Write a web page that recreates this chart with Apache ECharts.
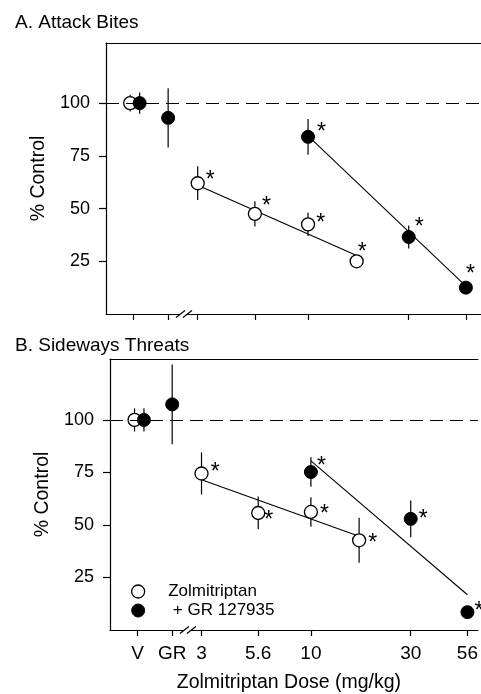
<!DOCTYPE html>
<html><head><meta charset="utf-8">
<script src="https://cdn.jsdelivr.net/npm/echarts@6/dist/echarts.min.js"></script>
<style>html,body{margin:0;padding:0;background:#fff}#c{width:481px;height:694px}</style>
</head><body><div id="c"></div>
<script>
// ---- data ----
const tickLabels = ['V', 'GR', '3', '5.6', '10', '30', '56'];
const yTicks = [25, 50, 75, 100];
const openDoses = ['V', '3', '5.6', '10', '17'];
const filledDoses = ['V', 'GR', '10', '30', '56'];
const openA = [100, 62, 47.5, 42.5, 25];
const openAErr = [4, 8, 6, 5.5, 3];
const filledA = [100, 93, 84, 36.5, 12.5];
const filledAErr = [5, 14, 8.5, 5.5, 1.5];
const openB = [100, 74.5, 55.7, 56.2, 42.7];
const openBErr = [5.5, 10, 7.8, 7, 10.7];
const filledB = [100, 107.4, 75.2, 52.9, 8.5];
const filledBErr = [5.5, 19, 7, 8.7, 1.5];
const openSig = [false, true, true, true, true];
const filledSig = [false, false, true, true, true];
const fitOpenDoses = ['3', '17'];
const fitOpenA = [61, 27.7];
const fitOpenB = [71.5, 44.6];
const fitFilledDoses = ['10', '56'];
const fitFilledA = [84.5, 13.2];
const fitFilledB = [80.5, 16.8];
const controlLevel = 100;
const seriesNames = ['Zolmitriptan', '+ GR 127935'];

// ---- axis mapping (log10 dose, with V and GR placed left of the break) ----
const CAT_POS = { V: 0.171, GR: 0.337 };
function xOf(d, shift) {
  if (d in CAT_POS) return CAT_POS[d] + (d === 'V' ? (shift || 0) : 0);
  return Math.log10(parseFloat(d));
}
const FONT = '"Liberation Sans", Arial, Helvetica, sans-serif';
const PX_PER_DECADE = 211;

function errSeries(idx, doses, vals, errs, shift) {
  return {
    type: 'custom', name: 'err' + idx + '_' + shift, xAxisIndex: idx, yAxisIndex: idx, silent: true, z: 2,
    data: doses.map((d, i) => [xOf(d, shift), vals[i] - errs[i], vals[i] + errs[i]]),
    encode: { x: 0, y: [1, 2] },
    renderItem: (params, api) => {
      const p1 = api.coord([api.value(0), api.value(1)]);
      const p2 = api.coord([api.value(0), api.value(2)]);
      return { type: 'line', shape: { x1: p1[0], y1: p1[1], x2: p2[0], y2: p2[1] },
        style: { stroke: '#000', lineWidth: 1.2 } };
    }
  };
}
function ptSeries(idx, name, doses, vals, sig, filled, shift, offsets) {
  return {
    type: 'scatter', name: name, xAxisIndex: idx, yAxisIndex: idx, symbol: 'circle', symbolSize: 13, z: 4,
    itemStyle: filled ? { color: '#000', borderColor: '#000', borderWidth: 1, opacity: 1 }
                      : { color: '#fff', borderColor: '#000', borderWidth: 1.3, opacity: 1 },
    emphasis: { disabled: true },
    data: doses.map((d, i) => ({
      value: [xOf(d, shift), vals[i]],
      label: { show: sig[i], formatter: '*', position: 'right', distance: 2,
        offset: offsets[i] || [0, -2], color: '#000', fontSize: 23, fontFamily: FONT }
    }))
  };
}
function fitSeries(idx, doses, vals) {
  return {
    type: 'line', xAxisIndex: idx, yAxisIndex: idx, symbol: 'none', silent: true, z: 3,
    lineStyle: { color: '#000', width: 1.1 },
    data: doses.map((d, i) => [xOf(d), vals[i]])
  };
}
function dashSeries(idx) {
  return {
    type: 'line', xAxisIndex: idx, yAxisIndex: idx, data: [], silent: true,
    markLine: { silent: true, symbol: 'none', label: { show: false },
      lineStyle: { type: [13, 7], color: '#000', width: 1.2 },
      data: [{ yAxis: controlLevel }] }
  };
}
const tickPos = tickLabels.map(l => xOf(l));
function labelFor(v) {
  for (let i = 0; i < tickPos.length; i++) if (Math.abs(tickPos[i] - v) < 1e-6) return tickLabels[i];
  return '';
}
function xAxis(idx, withLabels, min, widthPx) {
  return {
    type: 'value', gridIndex: idx, min: min, max: min + widthPx / PX_PER_DECADE,
    axisLine: { show: true, onZero: false, lineStyle: { color: '#000', width: 1.2 } },
    axisTick: { show: true, customValues: tickPos, length: 6, lineStyle: { color: '#000', width: 1.2 } },
    axisLabel: withLabels ? { show: true, customValues: tickPos, formatter: labelFor, color: '#000',
      fontSize: 19, fontFamily: FONT, margin: 14 } : { show: false },
    splitLine: { show: false },
    name: withLabels ? 'Zolmitriptan Dose (mg/kg)' : '', nameLocation: 'middle', nameGap: 43,
    nameTextStyle: { color: '#000', fontSize: 19.5, fontFamily: FONT, padding: [0, 10, 0, 0] }
  };
}
function topAxis(idx, min, widthPx) {
  return {
    type: 'value', gridIndex: idx, position: 'top', min: min, max: min + widthPx / PX_PER_DECADE,
    axisLine: { show: true, onZero: false, lineStyle: { color: '#000', width: 1.2 } },
    axisTick: { show: false }, axisLabel: { show: false }, splitLine: { show: false }
  };
}
function yAxis(idx, max) {
  return {
    type: 'value', gridIndex: idx, min: 0, max: max,
    axisLine: { show: true, lineStyle: { color: '#000', width: 1.2 } },
    axisTick: { show: true, customValues: yTicks, length: 7, lineStyle: { color: '#000', width: 1.2 } },
    axisLabel: { show: true, customValues: yTicks, color: '#000', fontSize: 18, fontFamily: FONT, margin: 16 },
    splitLine: { show: false },
    name: '% Control', nameLocation: 'middle', nameGap: 55,
    nameTextStyle: { color: '#000', fontSize: 19.5, fontFamily: FONT }
  };
}

const offA_open = [null, [-1, -3], [-2, -7], [-1, -1], [-8, -9]];
const offA_filled = [null, null, [0, -4], [-3, -9], [-9, -13]];
const offB_open = [null, [0, -1], [-3, 8], [0, 3], [0, 3]];
const offB_filled = [null, null, [-3, -5], [-1, 1], [-2, 0]];

const chart = echarts.init(document.getElementById('c'), null, { renderer: 'canvas' });
const W_A = 481 - 106, W_B = 481 - 110;
const option = {
  backgroundColor: '#fff',
  animation: false,
  title: [
    { text: 'A. Attack Bites', left: 10, top: 8, textStyle: { color: '#000', fontSize: 19, fontWeight: 'normal', fontFamily: FONT } },
    { text: 'B. Sideways Threats', left: 10, top: 331, textStyle: { color: '#000', fontSize: 19, fontWeight: 'normal', fontFamily: FONT } }
  ],
  grid: [
    { left: 106, top: 43, right: 0, height: 271, containLabel: false },
    { left: 110, top: 359, right: 0, height: 272, containLabel: false }
  ],
  xAxis: [xAxis(0, false, 0.0425, W_A), xAxis(1, true, 0.0397, W_B), topAxis(0, 0.0425, W_A), topAxis(1, 0.0397, W_B)],
  yAxis: [yAxis(0, 128.5), yAxis(1, 129)],
  legend: {
    left: 126, top: 578, orient: 'vertical', itemWidth: 30, itemHeight: 13, itemGap: 2,
    selectedMode: false,
    formatter: n => n === seriesNames[1] ? ' ' + n : n,
    textStyle: { color: '#000', fontSize: 17, fontFamily: FONT, lineHeight: 15, padding: [0, 0, 0, 10] },
    data: [
      { name: seriesNames[0], icon: 'circle', itemStyle: { color: '#fff', borderColor: '#000', borderWidth: 1.3 } },
      { name: seriesNames[1], icon: 'circle', itemStyle: { color: '#000', borderColor: '#000', borderWidth: 1 } }
    ]
  },
  series: [
    dashSeries(0), dashSeries(1),
    fitSeries(0, fitOpenDoses, fitOpenA), fitSeries(0, fitFilledDoses, fitFilledA),
    fitSeries(1, fitOpenDoses, fitOpenB), fitSeries(1, fitFilledDoses, fitFilledB),
    errSeries(0, openDoses, openA, openAErr, -0.014),
    errSeries(0, filledDoses, filledA, filledAErr, 0.031),
    errSeries(1, openDoses, openB, openBErr, -0.014),
    errSeries(1, filledDoses, filledB, filledBErr, 0.031),
    ptSeries(0, seriesNames[0], openDoses, openA, openSig, false, -0.014, offA_open),
    ptSeries(0, seriesNames[1], filledDoses, filledA, filledSig, true, 0.031, offA_filled),
    ptSeries(1, seriesNames[0], openDoses, openB, openSig, false, -0.014, offB_open),
    ptSeries(1, seriesNames[1], filledDoses, filledB, filledSig, true, 0.031, offB_filled)
  ]
};
chart.setOption(option);

// axis break marks "//" between GR and 3, placed through the axis scale
const breakX = (CAT_POS.GR + Math.log10(3)) / 2 + 0.005;
const gfx = [];
[0, 1].forEach(g => {
  const p = chart.convertToPixel({ xAxisIndex: g, yAxisIndex: g }, [breakX, 0]);
  const cx = p[0], y = p[1];
  gfx.push({ type: 'rect', shape: { x: cx - 4, y: y - 2, width: 6, height: 4 }, style: { fill: '#fff' }, z: 100 });
  [-3.5, 3.5].forEach(dx => {
    gfx.push({ type: 'line', shape: { x1: cx + dx - 4.5, y1: y + 3.5, x2: cx + dx + 4.5, y2: y - 3.5 },
      style: { stroke: '#000', lineWidth: 1.2 }, z: 101 });
  });
});
chart.setOption({ graphic: gfx });
</script></body></html>
